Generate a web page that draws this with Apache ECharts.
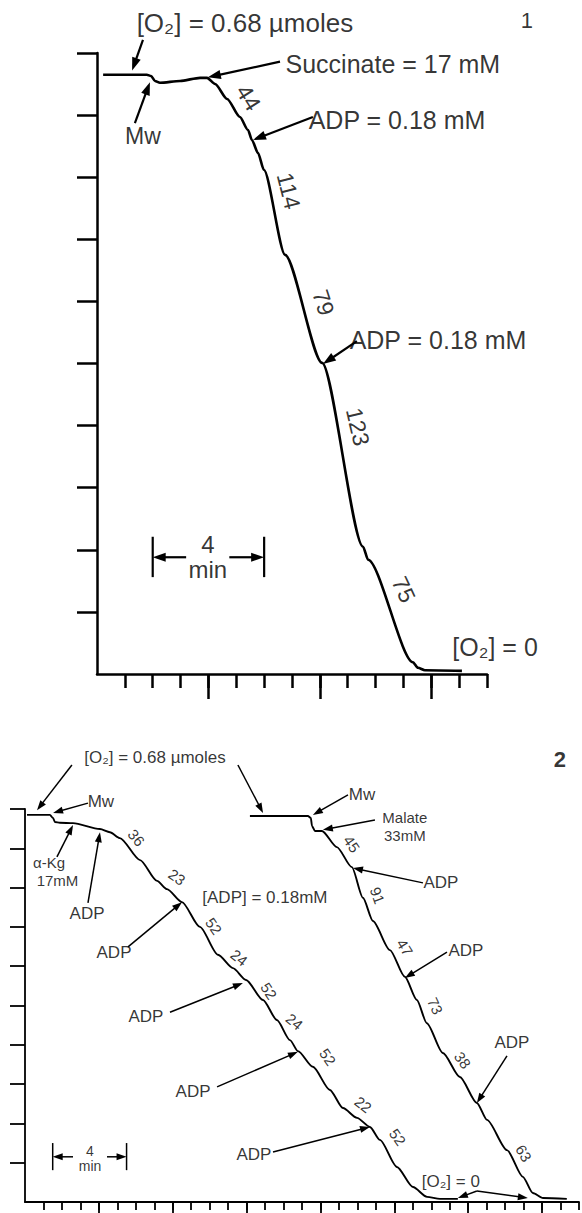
<!DOCTYPE html>
<html><head><meta charset="utf-8">
<script src="https://cdn.jsdelivr.net/npm/echarts@6/dist/echarts.min.js"></script>
<style>html,body{margin:0;padding:0;background:#fff}#c{width:582px;height:1213px}</style>
</head><body><div id="c"></div>
<script>
// ---------- Panel 1 (time in min, O2 in axis units; 10 units = full scale) ----------
const p1Trace = [[0.22,9.65],[1.79,9.65],[1.94,9.63],[2.08,9.55],[2.26,9.52],[2.98,9.55],[3.70,9.60],[3.95,9.60],[4.24,9.50],[4.67,9.26],[5.13,8.97],[5.42,8.76],[5.56,8.60],[5.78,8.39],[5.99,8.12],[6.75,6.75],[8.08,5.01],[9.55,2.05],[9.73,1.84],[11.34,0.19],[11.52,0.10],[11.77,0.06],[13.10,0.05]];
const p1XTicks = [1,2,3,4,5,6,7,8,9,10,11,12,13,14];
const p1XLong = [4,8,12];
const p1YTicks = [1,2,3,4,5,6,7,8,9,10];
const p1Text = [['[O₂] = 0.68 µmoles',5.31,10.48],['Succinate = 17 mM',10.62,9.82],['ADP = 0.18 mM',10.77,8.92],['ADP = 0.18 mM',12.24,5.38],['Mw',1.65,8.66],['[O₂] = 0',14.29,0.43],['4\nmin',3.98,1.88]];
const p1Rates = [['44',5.44,9.28],['114',6.88,7.78],['79',8.13,5.98],['123',9.36,3.98],['75',11.01,1.36]];
const p1Arrows = [[1.65,10.21,1.26,9.72],[1.36,8.87,1.90,9.53],[6.57,9.86,3.98,9.61],[7.75,8.97,5.60,8.60],[9.33,5.36,8.11,4.99],[3.2,1.88,2.0,1.88],[4.75,1.88,6.0,1.88]];
const p1Bars = [[2,2.21,2,1.56],[6,2.21,6,1.56]];
const p1Panel = [['1',15.43,10.53]];

// ---------- Panel 2 ----------
const p2TraceA = [[0.11,9.85],[1.35,9.85],[1.52,9.77],[1.62,9.67],[1.89,9.65],[2.60,9.64],[4.06,9.49],[4.60,9.41],[5.14,9.26],[6.23,8.70],[7.15,8.17],[7.69,7.96],[8.50,7.63],[9.47,7.00],[10.45,6.29],[11.26,5.95],[11.97,5.65],[12.89,5.14],[13.64,4.63],[14.35,4.12],[14.78,3.84],[15.59,3.44],[16.51,2.85],[17.22,2.39],[17.98,2.14],[18.68,1.91],[19.22,1.58],[20.14,0.89],[21.01,0.38],[21.77,0.13],[22.47,0.08],[23.44,0.08]];
const p2TraceB = [[12.18,9.82],[15.32,9.82],[15.48,9.77],[15.54,9.57],[15.70,9.44],[16.08,9.44],[16.89,9.03],[17.70,8.52],[18.30,7.74],[18.84,7.15],[19.76,6.41],[20.57,5.73],[21.22,5.14],[21.76,4.55],[22.63,3.79],[23.55,3.18],[24.47,2.52],[25.02,2.09],[26.10,1.32],[26.96,0.64],[27.50,0.23],[28.05,0.10],[29.34,0.08]];
const p2XTicks = Array.from({length:30},(_,i)=>i+1);
const p2XLong = [4,8,12,16,20,24,28];
const p2YTicks = [1,2,3,4,5,6,7,8,9,10];
const p2Text = [['[O₂] = 0.68 µmoles',7.04,11.32],['Mw',4.11,10.18],['α-Kg',1.30,8.63],['17mM',1.76,8.17],['ADP',3.36,7.35],['[ADP] = 0.18mM',12.99,7.74],['ADP',4.82,6.34],['ADP',6.55,4.73],['ADP',9.10,2.82],['ADP',12.40,1.20],['Mw',18.25,10.38],['Malate',20.57,9.79],['33mM',20.57,9.32],['ADP',22.52,8.12],['ADP',23.88,6.39],['ADP',26.37,4.05],['[O₂] = 0',23.06,0.51],['4',3.52,1.30],['min',3.52,0.91]];
const p2Rates = [['36',6.03,9.27],['23',8.23,8.27],['52',10.22,7.02],['24',11.60,6.22],['52',13.21,5.37],['24',14.59,4.59],['52',16.39,3.69],['22',18.31,2.48],['52',20.18,1.65],['45',17.69,9.11],['91',19.09,7.80],['47',20.57,6.48],['73',22.21,4.99],['38',23.70,3.61],['63',27.01,1.24]];
const p2Arrows = [[2.54,11.12,0.65,9.97],[11.53,11.12,12.89,9.90],[3.41,10.15,1.52,9.90],[1.73,8.78,2.60,9.59],[3.41,7.61,4.06,9.41],[5.58,6.49,8.50,7.63],[7.85,4.83,11.80,5.57],[10.40,2.93,14.78,3.82],[13.43,1.27,18.68,1.91],[17.49,10.36,15.59,9.85],[18.95,9.72,16.13,9.47],[21.55,8.12,17.76,8.50],[22.85,6.36,20.57,5.70],[26.10,3.72,24.47,2.52],[24.47,0.28,23.44,0.10],[24.47,0.28,27.23,0.10],[2.6,1.15,1.5,1.15],[4.44,1.15,5.5,1.15]];
const p2Bars = [[1.5,1.50,1.5,0.81],[5.5,1.50,5.5,0.81]];
const p2Panel = [['2',28.97,11.25]];

// ---------- styles ----------
const INK = '#000';
const FONT = '"Liberation Sans", Arial, sans-serif';
const p1TextSize = [26,25,25,25,23,25,24];
const p1RateRot = [-58,-76,-72,-77,-65];
const p2TextSize = [17,17,15,15,17,17,17,17,17,17,17,15,15,17,17,17,17,14,14];
const p2RateRot = [-50,-35,-55,-38,-57,-40,-55,-38,-55,-55,-70,-58,-65,-55,-58];

function arrowSeries(arrows, bars, xi, yi, lw, hl, hw) {
  const data = arrows.map(a => [a[0],a[1],a[2],a[3],1]).concat(bars.map(b => [b[0],b[1],b[2],b[3],0]));
  return {
    type:'custom', coordinateSystem:'cartesian2d', xAxisIndex:xi, yAxisIndex:yi, clip:false, silent:true,
    encode:{x:[0,2], y:[1,3]},
    data,
    renderItem(params, api){
      const a = api.coord([api.value(0), api.value(1)]);
      const b = api.coord([api.value(2), api.value(3)]);
      const head = api.value(4);
      const dx = b[0]-a[0], dy = b[1]-a[1];
      const L = Math.hypot(dx,dy) || 1;
      const ux = dx/L, uy = dy/L;
      const children = [];
      const ex = head ? b[0]-ux*hl*0.7 : b[0], ey = head ? b[1]-uy*hl*0.7 : b[1];
      children.push({type:'line', shape:{x1:a[0],y1:a[1],x2:ex,y2:ey}, style:{stroke:INK, lineWidth:lw}});
      if (head) {
        const bx = b[0]-ux*hl, by = b[1]-uy*hl;
        children.push({type:'polygon', shape:{points:[[b[0],b[1]],[bx-uy*hw,by+ux*hw],[bx+uy*hw,by-ux*hw]]}, style:{fill:INK}});
      }
      return {type:'group', children};
    }
  };
}

function textSeries(items, xi, yi, size, lh, rots, sizes, bold) {
  return {
    type:'scatter', xAxisIndex:xi, yAxisIndex:yi, symbolSize:0, clip:false, silent:true,
    itemStyle:{color:'rgba(0,0,0,0)'},
    label:{show:true, formatter:'{b}', position:'inside', align:'center', verticalAlign:'middle', color:INK, fontFamily:FONT, fontSize:size, lineHeight:lh, fontWeight: bold ? 'bold' : 'normal'},
    data: items.map((t,i) => {
      const d = {name:t[0], value:[t[1],t[2]], label:{}};
      if (rots) d.label.rotate = rots[i];
      if (sizes) { d.label.fontSize = sizes[i]; d.label.lineHeight = sizes[i] + 1; }
      return d;
    })
  };
}

function xAx(grid, max, ticks, len, lw, showLine) {
  return {gridIndex:grid, type:'value', min:0, max, interval:1, position:'bottom',
    axisLine:{show:showLine, onZero:false, lineStyle:{color:INK, width:lw}},
    axisTick:{show:true, customValues:ticks, length:len, lineStyle:{color:INK, width:lw}},
    axisLabel:{show:false}, splitLine:{show:false}};
}
function yAx(grid, ticks, len, lw) {
  return {gridIndex:grid, type:'value', min:0, max:10, interval:1,
    axisLine:{show:true, onZero:false, lineStyle:{color:INK, width:lw}},
    axisTick:{show:true, customValues:ticks, length:len, lineStyle:{color:INK, width:lw}},
    axisLabel:{show:false}, splitLine:{show:false}};
}

const chart = echarts.init(document.getElementById('c'), null, {renderer:'svg'});
chart.setOption({
  backgroundColor:'#fff',
  animation:false,
  grid:[{left:97, top:53, width:390, height:621}, {left:25, top:809, width:554, height:393}],
  xAxis:[xAx(0,14,p1XTicks,14,2.5,true), xAx(0,14,p1XLong,25,2.5,false), xAx(1,30,p2XTicks,8,1.8,true), xAx(1,30,p2XLong,13,1.8,false)],
  yAxis:[yAx(0,p1YTicks,20,2.5), yAx(1,p2YTicks,15,1.8)],
  series:[
    {type:'line', xAxisIndex:0, yAxisIndex:0, data:p1Trace, symbol:'none', smooth:0.25, smoothMonotone:'x', lineStyle:{color:INK, width:2.6}, silent:true},
    {type:'line', xAxisIndex:2, yAxisIndex:1, data:p2TraceA, symbol:'none', smooth:0.25, smoothMonotone:'x', lineStyle:{color:INK, width:1.9}, silent:true},
    {type:'line', xAxisIndex:2, yAxisIndex:1, data:p2TraceB, symbol:'none', smooth:0.25, smoothMonotone:'x', lineStyle:{color:INK, width:1.9}, silent:true},
    arrowSeries(p1Arrows, p1Bars, 0, 0, 2.2, 13, 4.5),
    arrowSeries(p2Arrows, p2Bars, 2, 1, 1.5, 10, 3.5),
    textSeries(p1Text, 0, 0, 25, 23, null, p1TextSize, false),
    textSeries(p1Rates, 0, 0, 23, 24, p1RateRot, null, false),
    textSeries(p1Panel, 0, 0, 22, 24, null, null, false),
    textSeries(p2Text, 2, 1, 17, 18, null, p2TextSize, false),
    textSeries(p2Rates, 2, 1, 15, 16, p2RateRot, null, false),
    textSeries(p2Panel, 2, 1, 22, 24, null, null, true)
  ]
});
</script></body></html>
